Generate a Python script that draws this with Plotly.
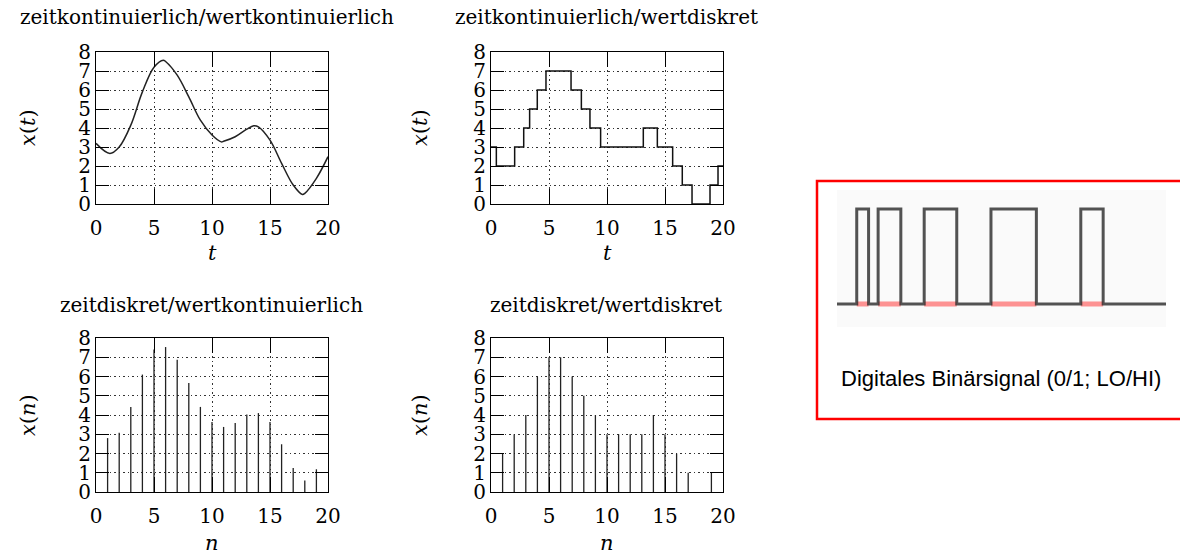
import plotly.graph_objects as go

# the page body has an 8px margin; figure is sized so reference pixel p maps to p-8
OFF = 8
W, H = 1180, 550

# ---------------- data ----------------
# continuous signal x(t) (read at sample points)
t_cont = [0, 1.2, 2, 3, 4, 5, 5.8, 6, 7, 8, 9, 10, 10.8, 11, 12, 13, 13.6, 14, 15, 16, 17, 17.8, 18, 19, 20]
x_cont = [3.19, 2.66, 3.0, 4.15, 5.9, 7.2, 7.57, 7.5, 6.78, 5.64, 4.41, 3.63, 3.27, 3.3, 3.54, 3.94, 4.12, 4.06, 3.36, 2.14, 1.0, 0.5, 0.56, 1.35, 2.49]

# quantized (value-discrete) staircase: step start times and levels
t_steps = [0, 0.46, 2.04, 2.82, 3.33, 3.99, 4.74, 6.90, 7.79, 8.53, 9.45, 13.13, 14.34, 15.66, 16.49, 17.33, 18.88, 19.57, 20]
x_steps = [3, 2, 3, 4, 5, 6, 7, 6, 5, 4, 3, 4, 3, 2, 1, 0, 1, 2, 2]

# time-discrete samples
n_idx = list(range(1, 20))
x_samp = [2.8, 3.08, 4.42, 6.1, 7.4, 7.53, 6.87, 5.66, 4.42, 3.64, 3.38, 3.58, 4.03, 4.1, 3.64, 2.48, 1.25, 0.6, 1.18]
x_samp_q = [2, 3, 4, 6, 7, 7, 6, 5, 4, 3, 3, 3, 3, 4, 3, 2, 1, 0, 1]

# binary signal (edge times in arbitrary units 0..100, levels 0/1)
bin_t = [0, 6, 9.6, 12.5, 19.4, 26.5, 36.4, 46.8, 60.6, 74.1, 80.9, 100]
bin_v = [0, 1, 0, 1, 0, 1, 0, 1, 0, 1, 0, 0]

titles = ["zeitkontinuierlich/wertkontinuierlich", "zeitkontinuierlich/wertdiskret",
          "zeitdiskret/wertkontinuierlich", "zeitdiskret/wertdiskret"]
caption = "Digitales Binärsignal (0/1; LO/HI)"

SERIF = "DejaVu Serif"

def px_x(p):
    return (p - OFF) / W

def px_y(p):
    return 1 - (p - OFF) / H

fig = go.Figure()

def stems(xs, ys):
    sx, sy = [], []
    for a, b in zip(xs, ys):
        sx += [a, a, None]
        sy += [0, b, None]
    return sx, sy

fig.add_trace(go.Scatter(x=t_cont, y=x_cont, mode="lines", line=dict(color="#222", width=1.5, shape="spline", smoothing=1.0),
                         xaxis="x", yaxis="y", showlegend=False, hoverinfo="skip"))
fig.add_trace(go.Scatter(x=t_steps, y=x_steps, mode="lines", line=dict(color="#111", width=1.5, shape="hv"),
                         xaxis="x2", yaxis="y2", showlegend=False, hoverinfo="skip"))
sx, sy = stems(n_idx, x_samp)
fig.add_trace(go.Scatter(x=sx, y=sy, mode="lines", line=dict(color="#222", width=1.3),
                         xaxis="x3", yaxis="y3", showlegend=False, hoverinfo="skip"))
sx, sy = stems(n_idx, x_samp_q)
fig.add_trace(go.Scatter(x=sx, y=sy, mode="lines", line=dict(color="#222", width=1.3),
                         xaxis="x4", yaxis="y4", showlegend=False, hoverinfo="skip"))

# red highlight under high pulses
rx, ry = [], []
for i in range(len(bin_v) - 1):
    if bin_v[i] == 1:
        rx += [bin_t[i], bin_t[i + 1], None]
        ry += [0, 0, None]
fig.add_trace(go.Scatter(x=rx, y=ry, mode="lines", line=dict(color="rgba(255,60,60,0.55)", width=5),
                         xaxis="x5", yaxis="y5", showlegend=False, hoverinfo="skip"))
fig.add_trace(go.Scatter(x=bin_t, y=bin_v, mode="lines", line=dict(color="rgba(40,40,40,0.8)", width=3, shape="hv"),
                         xaxis="x5", yaxis="y5", showlegend=False, hoverinfo="skip"))

plots = {
    "": ([96, 328], [52, 204]),
    "2": ([491, 723], [52, 204]),
    "3": ([96, 328], [338, 492]),
    "4": ([491, 723], [338, 492]),
}

common = dict(showline=True, mirror="ticks", linecolor="black", linewidth=1.2,
              ticks="inside", tickcolor="black", tickwidth=1.3, automargin=False,
              showgrid=True, gridcolor="#333", gridwidth=1, griddash="1.5px,3px",
              zeroline=False, tickfont=dict(family=SERIF, size=20, color="black"))

layout = dict(width=W, height=H, margin=dict(l=0, r=0, t=0, b=0, autoexpand=False), template="none",
              paper_bgcolor="white", plot_bgcolor="white", showlegend=False)

for k, (xr, yr) in plots.items():
    layout["xaxis" + k] = dict(domain=[px_x(xr[0]), px_x(xr[1])], range=[0, 20], dtick=5, tick0=0,
                               ticklen=15, ticklabelstandoff=6, anchor="y" + k, **common)
    layout["yaxis" + k] = dict(domain=[px_y(yr[1]), px_y(yr[0])], range=[0, 8], dtick=1, tick0=0,
                               ticklen=13, anchor="x" + k, **common)

layout["xaxis5"] = dict(domain=[px_x(837), px_x(1166)], range=[0, 100], visible=False, anchor="y5", automargin=False)
layout["yaxis5"] = dict(domain=[px_y(330), px_y(185)], range=[-0.274, 1.253], visible=False, anchor="x5", automargin=False)

fig.update_layout(**layout)

ann = []
title_pos = [(207, 17), (606, 17), (211, 305), (606, 305)]
for txt, (x, y) in zip(titles, title_pos):
    ann.append(dict(text=txt, x=px_x(x), y=px_y(y), xref="paper", yref="paper", showarrow=False,
                    font=dict(family=SERIF, size=20, color="black"), xanchor="center", yanchor="middle"))
# axis titles
for lab, (x, y) in [("<i>x</i>(<i>t</i>)", (28, 128)), ("<i>x</i>(<i>t</i>)", (420, 128)),
                    ("<i>x</i>(<i>n</i>)", (28, 415)), ("<i>x</i>(<i>n</i>)", (420, 415))]:
    ann.append(dict(text=lab, x=px_x(x), y=px_y(y), xref="paper", yref="paper", showarrow=False, textangle=-90,
                    font=dict(family=SERIF, size=21, color="black"), xanchor="center", yanchor="middle"))
for lab, (x, y) in [("<i>t</i>", (212, 253)), ("<i>t</i>", (607, 253)),
                    ("<i>n</i>", (212, 543)), ("<i>n</i>", (607, 543))]:
    ann.append(dict(text=lab, x=px_x(x), y=px_y(y), xref="paper", yref="paper", showarrow=False,
                    font=dict(family=SERIF, size=21, color="black"), xanchor="center", yanchor="middle"))
ann.append(dict(text=caption, x=px_x(1001), y=px_y(378), xref="paper", yref="paper", showarrow=False,
                font=dict(family="Liberation Sans", size=22, color="black"), xanchor="center", yanchor="middle"))
fig.update_layout(annotations=ann)

fig.update_layout(shapes=[
    dict(type="rect", xref="paper", yref="paper", x0=px_x(837), x1=px_x(1166), y0=px_y(327), y1=px_y(190),
         fillcolor="#fafafa", line=dict(width=0), layer="below"),
    dict(type="rect", xref="paper", yref="paper", x0=px_x(817), x1=px_x(1192), y0=px_y(419), y1=px_y(181),
         line=dict(color="#ff0000", width=2.5), fillcolor="rgba(0,0,0,0)"),
])

fig.write_html("out.html")
